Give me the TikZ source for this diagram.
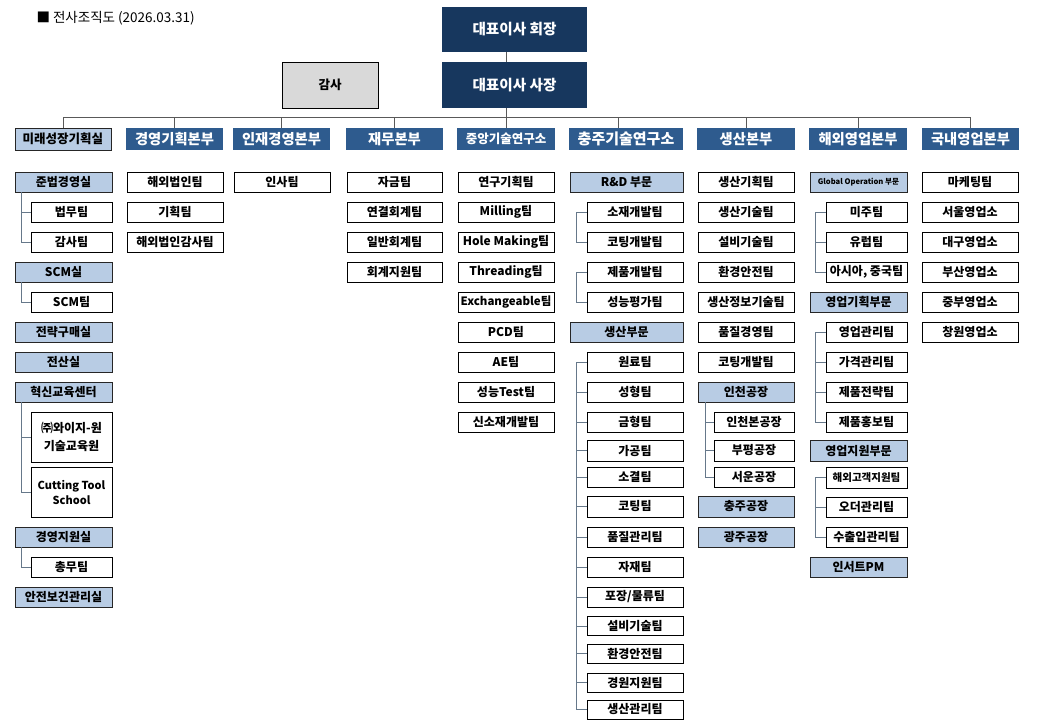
\documentclass[tikz,border=0pt]{standalone}
\usepackage{fontspec}
\setmainfont{Noto Sans CJK KR}
\usepackage{xcolor}
\usepackage{tikz}
\definecolor{navy}{HTML}{17375E}
\definecolor{hdrblue}{HTML}{2E5B8E}
\definecolor{subblue}{HTML}{B8CCE4}
\definecolor{busgray}{HTML}{595959}
\definecolor{brkgray}{HTML}{66788A}

\begin{document}
\begin{tikzpicture}[x=1pt,y=-1pt,
  box/.style={draw=black,line width=0.8pt,fill=white,inner sep=0pt,minimum height=20pt,font=\fontsize{12}{13}\selectfont\bfseries},
  team/.style={box,minimum width=96pt},
  sub/.style={box,fill=subblue,draw=black!85},
  hdr/.style={fill=hdrblue,text=white,inner sep=0pt,minimum height=22pt,minimum width=97pt,font=\fontsize{14.3}{16}\selectfont\bfseries},
  ceo/.style={fill=navy,text=white,inner sep=0pt,minimum width=145pt,font=\fontsize{14.6}{16}\selectfont\bfseries},
  link/.style={draw=busgray,line width=0.8pt},
  brk/.style={draw=brkgray,line width=0.8pt}]
\useasboundingbox (0,0) rectangle (1044,726);
\node[anchor=west,font=\fontsize{13.5}{15}\selectfont] (ttl) at (33,18) {■ 전사조직도 (2026.03.31)};
\node[ceo,minimum height=45pt] (hz) at (514.5,29.5) {대표이사 회장};
\node[ceo,minimum height=46pt] (sz) at (514.5,85) {대표이사 사장};
\node[box,fill=black!15,minimum width=96pt,minimum height=46pt,font=\fontsize{12.5}{14}\selectfont\bfseries] (gsa) at (330,85) {감사};
\coordinate (bus) at (0,117);
\node[sub,minimum width=96pt,minimum height=22pt,font=\fontsize{12.5}{14}\selectfont\bfseries] (h1) at (63,139) {미래성장기획실};
\node[hdr] (h2) at (174.5,139) {경영기획본부};
\node[hdr] (h3) at (281.5,139) {인재경영본부};
\node[hdr] (h4) at (394.5,139) {재무본부};
\node[hdr,minimum width=98pt,font=\fontsize{12.5}{14}\selectfont\bfseries] (h5) at (506,139) {중앙기술연구소};
\node[hdr,minimum width=114pt,font=\fontsize{15}{16}\selectfont\bfseries] (h6) at (626,139) {충주기술연구소};
\node[hdr,minimum width=98pt] (h7) at (746,139) {생산본부};
\node[hdr,minimum width=98pt] (h8) at (858,139) {해외영업본부};
\node[hdr] (h9) at (970.5,139) {국내영업본부};
\draw[link] (hz.south -| h5) -- (sz.north -| h5);
\draw[link] (sz.south -| h5) -- (h5.north);
\draw[link] (h1.north |- bus) -- (h9.north |- bus);
\draw[link] (h1.north |- bus) -- (h1.north);
\draw[link] (h2.north |- bus) -- (h2.north);
\draw[link] (h3.north |- bus) -- (h3.north);
\draw[link] (h4.north |- bus) -- (h4.north);
\draw[link] ([xshift=-8pt]h6.north |- bus) -- ([xshift=-8pt]h6.north);
\draw[link] (h7.north |- bus) -- (h7.north);
\draw[link] (h8.north |- bus) -- (h8.north);
\draw[link] (h9.north |- bus) -- (h9.north);
\node[sub,minimum width=97pt] (jb) at (63.5,182) {준법경영실};
\node[team,minimum width=81pt] (bm) at (71.5,212) {법무팀};
\node[team,minimum width=81pt] (gst) at (71.5,242) {감사팀};
\node[sub,minimum width=97pt] (scm) at (63.5,272) {SCM실};
\node[team,minimum width=81pt] (scmt) at (71.5,302) {SCM팀};
\node[sub,minimum width=97pt] (jg) at (63.5,332) {전략구매실};
\node[sub,minimum width=97pt] (js) at (63.5,362) {전산실};
\node[sub,minimum width=97pt] (hs) at (63.5,392) {혁신교육센터};
\node[team,minimum width=81pt,minimum height=50pt,align=center,font=\fontsize{12}{18}\selectfont\bfseries] (yg) at (71.5,437) {㈜와이지-원\\기술교육원};
\node[team,minimum width=81pt,minimum height=50pt,align=center,font=\fontsize{11}{15}\selectfont\bfseries] (cts) at (71.5,492) {Cutting Tool\\School};
\node[sub,minimum width=97pt] (gj) at (63.5,537) {경영지원실};
\node[team,minimum width=81pt] (cm) at (71.5,567) {총무팀};
\node[sub,minimum width=97pt] (ab) at (63.5,597) {안전보건관리실};
\draw[brk] ([xshift=7pt]jb.south west) |- (bm.west);
\draw[brk] ([xshift=7pt]jb.south west) |- (gst.west);
\draw[brk] ([xshift=7pt]scm.south west) |- (scmt.west);
\draw[brk] ([xshift=7pt]hs.south west) |- (yg.west);
\draw[brk] ([xshift=7pt]hs.south west) |- (cts.west);
\draw[brk] ([xshift=7pt]gj.south west) |- (cm.west);
\node[team] (hb) at (175,182) {해외법인팀};
\node[team] (gh) at (175,212) {기획팀};
\node[team] (hbg) at (175,242) {해외법인감사팀};
\node[team] (is) at (282,182) {인사팀};
\node[team,minimum width=95pt] (jk) at (394.5,182) {자금팀};
\node[team,minimum width=95pt] (yh) at (394.5,212) {연결회계팀};
\node[team,minimum width=95pt] (ih) at (394.5,242) {일반회계팀};
\node[team,minimum width=95pt] (hj) at (394.5,272) {회계지원팀};
\node[team] (ygh) at (506,182) {연구기획팀};
\node[team] (mil) at (506,212) {Milling팀};
\node[team] (hm) at (506,242) {Hole Making팀};
\node[team] (thr) at (506,272) {Threading팀};
\node[team,font=\fontsize{11.5}{13}\selectfont\bfseries] (exc) at (506,302) {Exchangeable팀};
\node[team] (pcd) at (506,332) {PCD팀};
\node[team] (ae) at (506,362) {AE팀};
\node[team] (snt) at (506,392) {성능Test팀};
\node[team] (ssj) at (506,422) {신소재개발팀};
\node[sub,minimum width=113pt] (rd) at (626.5,182) {R\&D 부문};
\node[team] (sj) at (635,212) {소재개발팀};
\node[team] (kd) at (635,242) {코팅개발팀};
\node[team] (jp) at (635,272) {제품개발팀};
\node[team] (sp) at (635,302) {성능평가팀};
\node[sub,minimum width=113pt] (ss) at (626.5,332) {생산부문};
\node[team] (wr) at (635,362) {원료팀};
\node[team] (sh) at (635,392) {성형팀};
\node[team] (gh2) at (635,422) {금형팀};
\node[team,minimum height=21pt] (gg) at (635,450.5) {가공팀};
\node[team] (sk) at (635,477) {소결팀};
\node[team,minimum height=21pt] (kt) at (635,506.5) {코팅팀};
\node[team] (pg) at (635,537) {품질관리팀};
\node[team] (jj) at (635,567) {자재팀};
\node[team] (pj) at (635,597) {포장/물류팀};
\node[team,minimum height=19pt] (sb) at (635,626) {설비기술팀};
\node[team,minimum height=19pt] (ha) at (635,653.5) {환경안전팀};
\node[team,minimum height=19pt] (gw) at (635,682.5) {경원지원팀};
\node[team,minimum height=19pt] (sg) at (635,709.5) {생산관리팀};
\draw[brk] (sj.west) -- ++(-10,0) |- (kd.west);
\draw[brk] (jp.west) -- ++(-10,0) |- (sp.west);
\draw[brk] (wr.west) -- ++(-10,0) |- (sg.west);
\draw[brk] (sh.west) -- ++(-10,0);
\draw[brk] (gh2.west) -- ++(-10,0);
\draw[brk] (gg.west) -- ++(-10,0);
\draw[brk] (sk.west) -- ++(-10,0);
\draw[brk] (kt.west) -- ++(-10,0);
\draw[brk] (pg.west) -- ++(-10,0);
\draw[brk] (jj.west) -- ++(-10,0);
\draw[brk] (pj.west) -- ++(-10,0);
\draw[brk] (sb.west) -- ++(-10,0);
\draw[brk] (ha.west) -- ++(-10,0);
\draw[brk] (gw.west) -- ++(-10,0);
\node[team] (sgh) at (746,182) {생산기획팀};
\node[team] (sgs) at (746,212) {생산기술팀};
\node[team] (sbg) at (746,242) {설비기술팀};
\node[team] (hwa) at (746,272) {환경안전팀};
\node[team] (sjb) at (746,302) {생산정보기술팀};
\node[team] (pgy) at (746,332) {품질경영팀};
\node[team] (kgb) at (746,362) {코팅개발팀};
\node[sub,minimum width=96pt] (ic) at (746,392) {인천공장};
\node[team,minimum width=80pt] (ib) at (754,422) {인천본공장};
\node[team,minimum width=80pt,minimum height=21pt] (bp) at (754,450.5) {부평공장};
\node[team,minimum width=80pt] (su) at (754,477) {서운공장};
\node[sub,minimum width=96pt,minimum height=21pt] (cj) at (746,506.5) {충주공장};
\node[sub,minimum width=96pt] (gjg) at (746,537) {광주공장};
\draw[brk] ([xshift=8pt]ic.south west) |- (ib.west);
\draw[brk] ([xshift=8pt]ic.south west) |- (bp.west);
\draw[brk] ([xshift=8pt]ic.south west) |- (su.west);
\node[sub,minimum width=97pt,font=\fontsize{7.6}{8}\selectfont\bfseries] (go) at (858.5,182) {Global Operation 부문};
\node[team,minimum width=81pt] (mj) at (866.5,212) {미주팀};
\node[team,minimum width=81pt] (ur) at (866.5,242) {유럽팀};
\node[team,minimum width=81pt] (as) at (866.5,272) {아시아, 중국팀};
\node[sub,minimum width=97pt] (ygb) at (858.5,302) {영업기획부문};
\node[team,minimum width=81pt] (ygt) at (866.5,332) {영업관리팀};
\node[team,minimum width=81pt] (ggt) at (866.5,362) {가격관리팀};
\node[team,minimum width=81pt] (pjt) at (866.5,392) {제품전략팀};
\node[team,minimum width=81pt] (pht) at (866.5,422) {제품홍보팀};
\node[sub,minimum width=97pt,minimum height=21pt] (yjb) at (858.5,451) {영업지원부문};
\node[team,minimum width=81pt,minimum height=21pt,font=\fontsize{10.5}{11}\selectfont\bfseries] (hgt) at (866.5,477.5) {해외고객지원팀};
\node[team,minimum width=81pt] (odt) at (866.5,507) {오더관리팀};
\node[team,minimum width=81pt] (sct) at (866.5,537) {수출입관리팀};
\node[sub,minimum width=97pt] (pm) at (858.5,567) {인서트PM};
\draw[brk] (mj.west) -- ++(-10,0) |- (as.west);
\draw[brk] (ur.west) -- ++(-10,0);
\draw[brk] (ygt.west) -- ++(-10,0) |- (pht.west);
\draw[brk] (ggt.west) -- ++(-10,0);
\draw[brk] (pjt.west) -- ++(-10,0);
\draw[brk] (hgt.west) -- ++(-10,0) |- (sct.west);
\draw[brk] (odt.west) -- ++(-10,0);
\node[team] (mkt) at (970,182) {마케팅팀};
\node[team] (seo) at (970,212) {서울영업소};
\node[team] (dg) at (970,242) {대구영업소};
\node[team] (bs) at (970,272) {부산영업소};
\node[team] (jbu) at (970,302) {중부영업소};
\node[team] (cw) at (970,332) {창원영업소};
\end{tikzpicture}
\end{document}
